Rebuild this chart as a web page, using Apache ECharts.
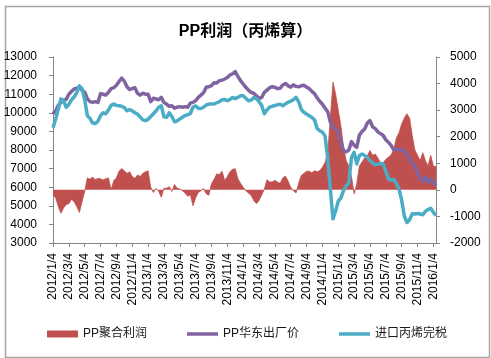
<!DOCTYPE html>
<html><head><meta charset="utf-8">
<script src="https://cdn.jsdelivr.net/npm/echarts@6/dist/echarts.min.js"></script>
<style>html,body{margin:0;padding:0;background:#fff}#c{width:491px;height:358px}</style>
</head><body><div id="c"></div><script>
const titleText = 'PP利润（丙烯算）';
const seriesNames = ['PP聚合利润', 'PP华东出厂价', '进口丙烯完税'];
const tickLabels = ['2012/1/4','2012/3/4','2012/5/4','2012/7/4','2012/9/4','2012/11/4',
  '2013/1/4','2013/3/4','2013/5/4','2013/7/4','2013/9/4','2013/11/4',
  '2014/1/4','2014/3/4','2014/5/4','2014/7/4','2014/9/4','2014/11/4',
  '2015/1/4','2015/3/4','2015/5/4','2015/7/4','2015/9/4','2015/11/4','2016/1/4'];
const leftTicks = [3000, 13000, 1000];
const rightTicks = [-2000, 5000, 1000];
const profit = [
 -200,-300,-630,-880,-680,-550,-520,-350,-450,-630,
 -850,-450,-50,450,400,480,380,430,420,370,
 420,450,0,350,450,700,800,720,620,680,
 500,430,560,500,620,680,720,100,-100,50,
 -50,-280,60,60,120,-60,200,60,30,-30,
 -130,-240,-180,-600,-300,-100,-30,50,-150,-200,
 230,400,600,580,700,350,500,680,780,790,
 420,250,100,-30,-120,-200,-400,-520,-400,-200,
 20,380,300,300,360,290,250,450,520,330,
 100,-30,-120,250,540,620,700,700,640,720,
 680,720,850,1030,1400,2700,4050,3600,3000,2400,
 1600,1100,900,500,-150,230,900,1050,1200,1280,
 1480,1300,1350,1200,1000,1020,1150,1230,1320,1520,
 1950,2150,2480,2700,2860,2700,2050,1500,1300,1100,
 1400,1100,900,1300,900,870];
const priceEast = [
 9950,10100,10400,10550,10680,10720,11000,11150,11280,11320,
 11370,11200,11120,10750,10600,10560,10600,10560,11030,11000,
 10960,11100,11300,11350,11480,11680,11860,11700,11400,11250,
 11300,11350,11050,10950,11050,11000,11000,10600,10780,10740,
 10700,10830,10550,10470,10350,10380,10250,10300,10330,10300,
 10330,10300,10520,10560,10650,10830,10950,11080,11370,11400,
 11460,11620,11600,11730,11750,11820,11900,12030,12100,12220,
 11950,11730,11550,11370,11220,11100,11050,10920,10780,10820,
 11100,11220,11350,11400,11370,11300,11320,11500,11580,11450,
 11380,11500,11420,11400,11450,11480,11380,11300,11150,11030,
 10800,10620,10460,10250,10060,9500,9200,9150,8950,8450,
 7950,7900,8000,8450,8250,8150,8800,9000,9130,9450,
 9580,9250,9150,8970,8880,8780,8550,8410,8250,8000,
 8050,8030,8000,7950,7730,7500,7300,7100,6800,6500,
 6320,6530,6240,6440,6250,6080];
const propyleneImport = [
 9200,9650,10200,10750,10650,10300,10450,10700,10850,11080,
 11450,11300,10700,9850,9700,9450,9420,9550,9850,10000,
 9950,10150,10400,10470,10400,10380,10350,10280,10110,10180,
 10100,10000,9930,9770,9620,9580,9650,9800,9950,10100,
 10300,10380,9780,9760,10000,9800,9520,9560,9670,9760,
 9850,9900,9960,10300,10370,10250,10230,10300,10420,10470,
 10470,10480,10540,10600,10700,10720,10650,10720,10820,10760,
 10830,10920,10920,10780,10650,10680,10820,10760,10600,10400,
 9950,10150,10300,10350,10390,10440,10460,10380,10480,10570,
 10620,10700,10830,10600,10180,10030,9930,9840,9750,9620,
 9150,9040,8950,8750,7550,5900,4300,4720,5250,5430,
 5830,6070,6250,7600,7880,7250,7700,7780,7700,7600,
 7420,7300,7200,7240,7270,7250,6850,6450,6380,6430,
 6200,5900,5300,4450,4100,4250,4570,4560,4590,4560,
 4520,4700,4800,4870,4650,4480];

// categories: the tick dates plus the 14th and 24th of each month in between
const categories = [];
tickLabels.forEach(function (lab, k) {
  const p = lab.split('/');
  const y = +p[0], m = +p[1];
  const last = (k === tickLabels.length - 1);
  const months = last ? [m] : [m, m + 1];
  months.forEach(function (mm) {
    const days = last ? [4, 14] : [4, 14, 24];
    days.forEach(function (d) { categories.push(y + '/' + mm + '/' + d); });
  });
});

const FONT = '"Liberation Sans", "Noto Sans CJK SC", sans-serif';
const axisGray = '#868686';
const lineIcon = 'path://M0,0L0.01,0M0,1.8L31,1.8L31,5.2L0,5.2ZM31,7L30.99,7';
const plain = function (v) { return String(v); };

const chart = echarts.init(document.getElementById('c'), null, {renderer: 'canvas'});
chart.setOption({
  animation: false,
  backgroundColor: '#ffffff',
  title: {
    text: titleText, left: 'center', top: 19,
    textStyle: {fontFamily: FONT, fontSize: 16, fontWeight: 'bold', color: '#000'}
  },
  graphic: [{
    type: 'rect', left: 3, top: 4, silent: true,
    shape: {width: 484, height: 351},
    style: {fill: 'none', stroke: '#a6a6a6', lineWidth: 1.5}
  }],
  legend: {
    left: 42, top: 323, itemWidth: 31, itemHeight: 7, itemGap: 40,
    textStyle: {fontFamily: FONT, fontSize: 12, color: '#1a1a1a'},
    data: [
      {name: seriesNames[0], icon: 'rect'},
      {name: seriesNames[1], icon: lineIcon},
      {name: seriesNames[2], icon: lineIcon}
    ]
  },
  grid: {left: 53, top: 57, width: 383, height: 186, containLabel: false},
  xAxis: {
    type: 'category', data: categories, boundaryGap: false,
    axisLine: {lineStyle: {color: axisGray, width: 1}, onZero: false},
    axisTick: {show: true, interval: 5, length: 4, lineStyle: {color: axisGray}},
    axisLabel: {interval: 5, rotate: 90, margin: 10, fontFamily: FONT, fontSize: 12, color: '#000'},
    splitLine: {show: false}
  },
  yAxis: [{
    type: 'value', min: leftTicks[0], max: leftTicks[1], interval: leftTicks[2],
    axisLine: {show: true, lineStyle: {color: axisGray}},
    axisTick: {show: true, length: 4, lineStyle: {color: axisGray}},
    axisLabel: {margin: 16, fontFamily: FONT, fontSize: 12, color: '#000', formatter: plain},
    splitLine: {show: false}
  }, {
    type: 'value', min: rightTicks[0], max: rightTicks[1], interval: rightTicks[2],
    axisLine: {show: true, lineStyle: {color: axisGray}},
    axisTick: {show: true, length: 4, lineStyle: {color: axisGray}},
    axisLabel: {margin: 14, fontFamily: FONT, fontSize: 12, color: '#000', formatter: plain},
    splitLine: {show: false}
  }],
  series: [{
    name: seriesNames[0], type: 'line', yAxisIndex: 1, data: profit,
    symbol: 'none', color: '#C0504D',
    lineStyle: {width: 0.8, color: '#C0504D'},
    areaStyle: {color: '#C0504D', opacity: 1},
    z: 1
  }, {
    name: seriesNames[1], type: 'line', yAxisIndex: 0, data: priceEast,
    symbol: 'none', color: '#8064A2',
    lineStyle: {width: 3.5, color: '#8064A2', join: 'round'},
    z: 2
  }, {
    name: seriesNames[2], type: 'line', yAxisIndex: 0, data: propyleneImport,
    symbol: 'none', color: '#4BACC6',
    lineStyle: {width: 3.5, color: '#4BACC6', join: 'round'},
    z: 3
  }]
});
</script></body></html>
